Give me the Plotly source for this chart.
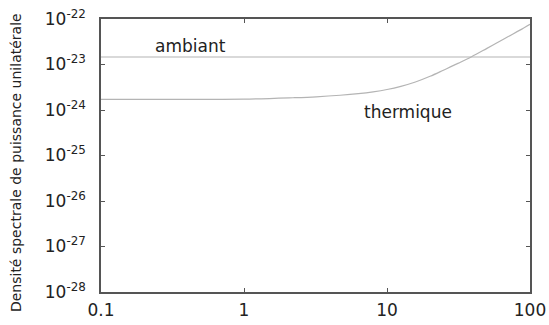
import numpy as np
import plotly.graph_objects as go

# Data
freq = [0.1, 0.5, 1, 2.2, 3.2, 4.7, 6.3, 8, 10, 12.5, 15.8, 20, 25, 31.6, 39, 50,
        58, 70, 85, 100]
thermique = [1.72e-24, 1.72e-24, 1.73e-24, 1.86e-24, 1.95e-24, 2.11e-24, 2.29e-24,
             2.51e-24, 2.82e-24, 3.31e-24, 4.12e-24, 5.5e-24, 7.59e-24, 1.07e-23,
             1.48e-23, 2.26e-23, 2.92e-23, 4.07e-23, 5.69e-23, 7.67e-23]
ambiant_x = [0.1, 100]
ambiant = [1.46e-23, 1.46e-23]

x_ticks = [0.1, 1, 10, 100]
x_tick_text = ["0.1", "1", "10", "100"]
y_exps = [-28, -27, -26, -25, -24, -23, -22]
y_ticks = [10.0 ** e for e in y_exps]
y_tick_text = ["10<sup>%d</sup>" % e for e in y_exps]

line_col = "#b4b4b4"
axis_col = "#555555"
txt_col = "#222222"
font_fam = "DejaVu Sans"

fig = go.Figure()
fig.add_trace(go.Scatter(x=ambiant_x, y=ambiant, mode="lines",
                         line=dict(color=line_col, width=1.2), showlegend=False))
fig.add_trace(go.Scatter(x=freq, y=thermique, mode="lines", line_shape="spline",
                         line=dict(color=line_col, width=1.2), showlegend=False))

axis_common = dict(showgrid=False, zeroline=False, showline=True, linecolor=axis_col,
                   linewidth=1.5, mirror="ticks", ticks="inside", ticklen=4,
                   tickcolor=axis_col, tickwidth=1, automargin=False,
                   tickfont=dict(family=font_fam, size=17, color=txt_col))

fig.update_xaxes(type="log", range=[-1, 2], tickvals=x_ticks, ticktext=x_tick_text,
                 ticklabelstandoff=2, **axis_common)
fig.update_yaxes(type="log", range=[-28, -22], tickvals=y_ticks, ticktext=y_tick_text,
                 ticklabelstandoff=10, **axis_common)

fig.add_annotation(x=np.log10(0.425), y=-22.593, xref="x", yref="y", text="ambiant",
                   showarrow=False, font=dict(family=font_fam, size=17, color=txt_col))
fig.add_annotation(x=1.147, y=-24.044, xref="x", yref="y", text="thermique",
                   showarrow=False, font=dict(family=font_fam, size=17, color=txt_col))
fig.add_annotation(x=-0.198, y=0.4725, xref="paper", yref="paper",
                   xanchor="center", yanchor="middle",
                   text="Densité spectrale de puissance unilatérale", textangle=-90,
                   showarrow=False, font=dict(family=font_fam, size=14, color=txt_col))

fig.update_layout(width=549, height=325, plot_bgcolor="white", paper_bgcolor="white",
                  margin=dict(l=101, r=19, t=19, b=33, autoexpand=False))

fig.write_html("out.html", config={"displayModeBar": False},
               post_script="document.body.style.margin='0';")
